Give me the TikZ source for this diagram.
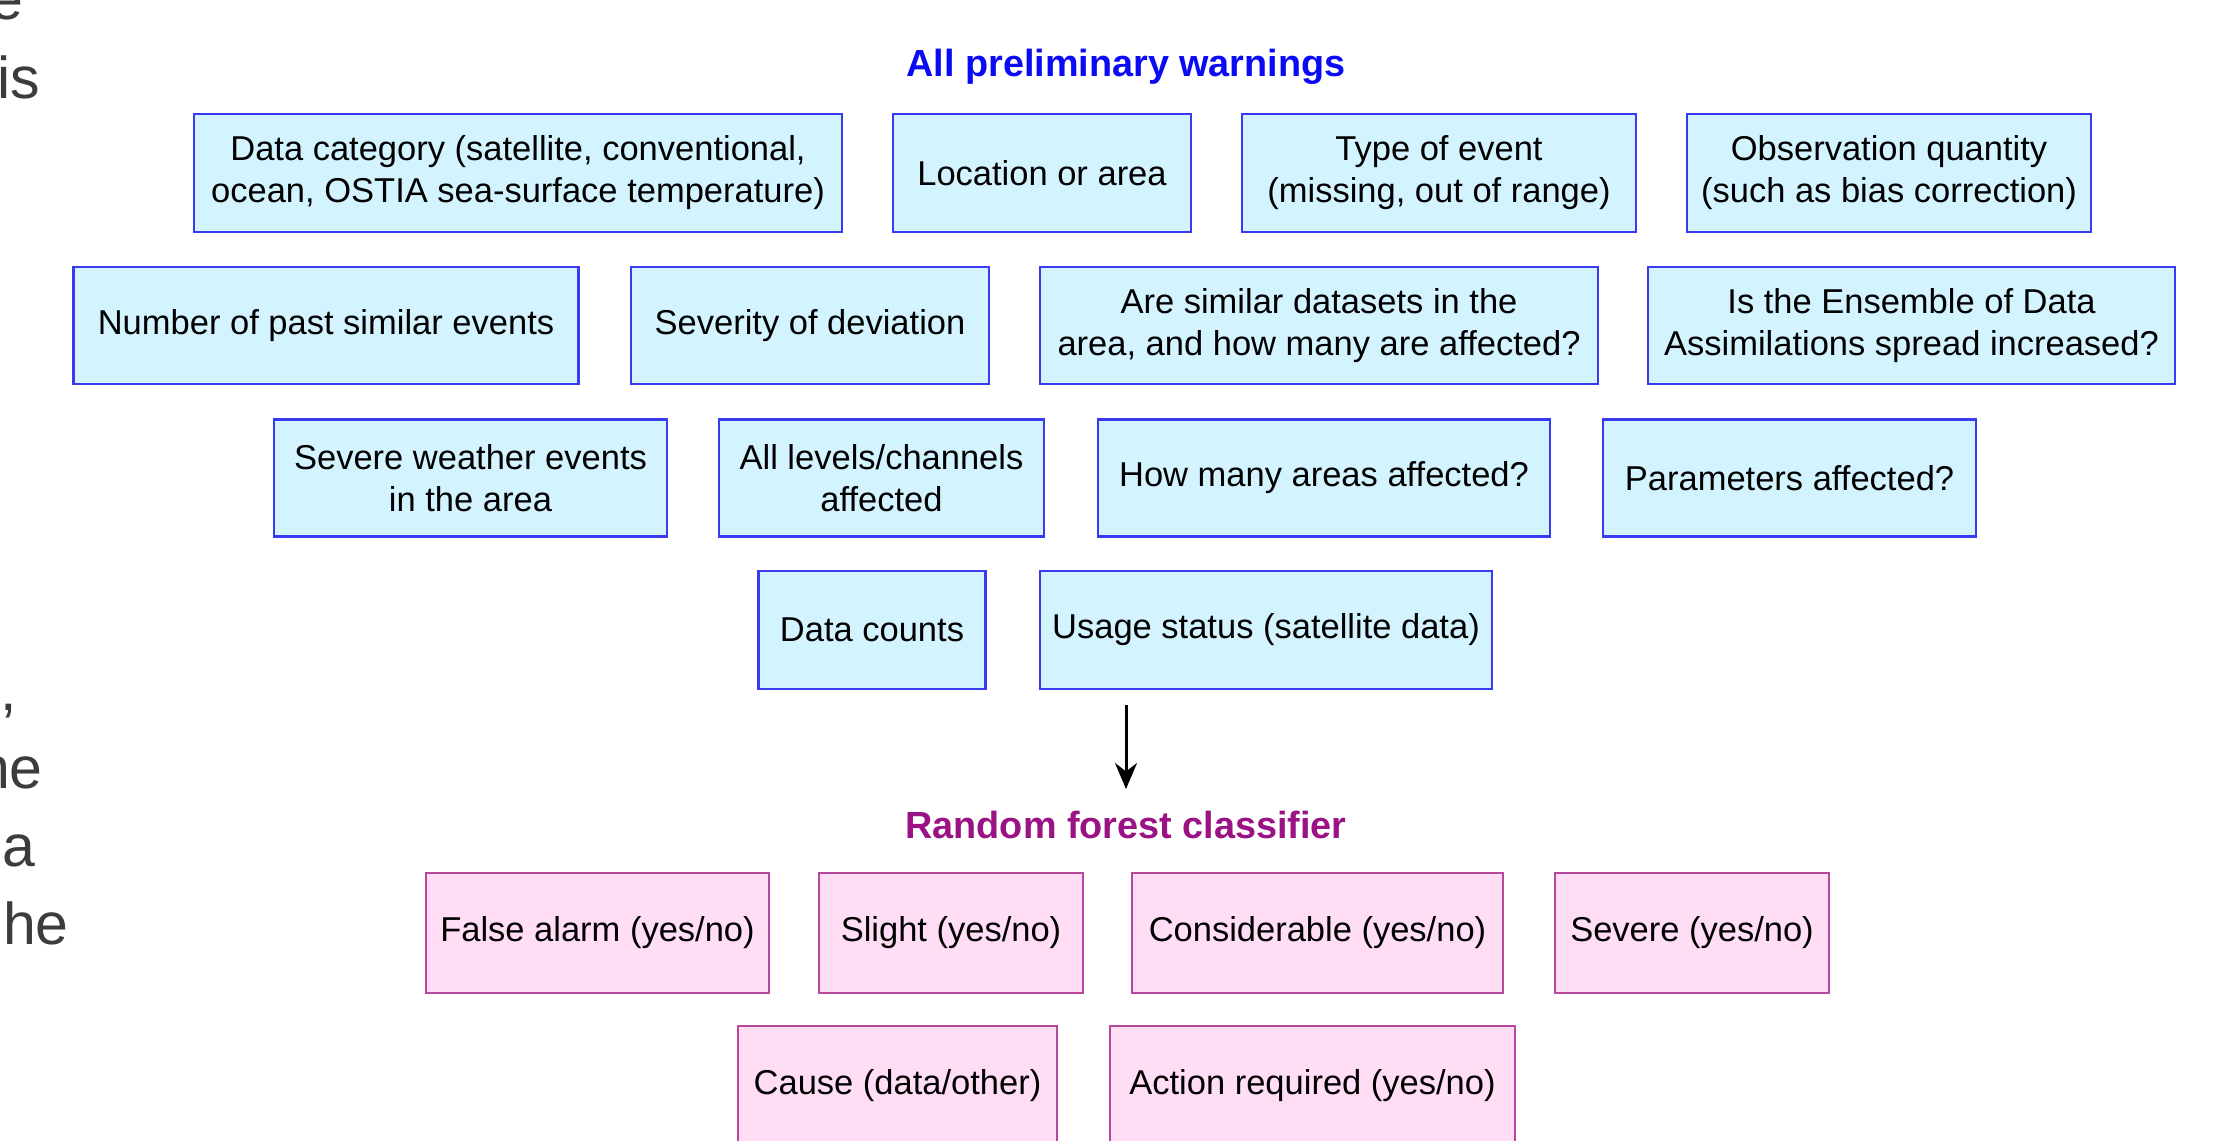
\documentclass[tikz,border=0pt]{standalone}
\usepackage{fontspec}
\setmainfont{Liberation Sans}
\usetikzlibrary{arrows.meta}
\definecolor{bfill}{HTML}{D3F4FF}
\definecolor{bdraw}{HTML}{3A3AF2}
\definecolor{pfill}{HTML}{FFDEF5}
\definecolor{pdraw}{HTML}{B8479E}
\definecolor{tblue}{HTML}{0A0AF5}
\definecolor{tpurple}{HTML}{9A1283}
\definecolor{fragc}{HTML}{3C3C3C}
\begin{document}
\begin{tikzpicture}[x=1pt,y=-1pt,
  wh/.style 2 args={minimum width=#1pt, minimum height=#2pt},
  boxbase/.style={line width=2.4pt, align=center, inner sep=0pt, font=\fontsize{34.5}{42}\selectfont},
  bbox/.style={boxbase, draw=bdraw, fill=bfill},
  pbox/.style={boxbase, draw=pdraw, fill=pfill},
  ttl/.style={anchor=base, inner sep=0pt, font=\fontsize{37.8}{44}\selectfont\bfseries},
  frag/.style={anchor=base east, inner sep=0pt, text=fragc, font=\fontsize{59}{78}\selectfont},
  arr/.style={line width=3pt, -{Stealth[length=26pt,width=22pt]}}]
\useasboundingbox (0,0) rectangle (2215,1140);
\fill[white] (0,0) rectangle (2215,1140);
\clip (0,0) rectangle (2215,1140);

% fragments of neighbouring text
\node[frag] (f1) at (24,20) {e};
\node[frag] (f2) at (40,98) {is};
\node[frag] (f3) at (17,710) {,};
\node[frag] (f4) at (43,788) {he};
\node[frag] (f5) at (36,866) {a};
\node[frag] (f6) at (69,944) {he};

% titles
\node[ttl, text=tblue] (t1) at (1126,77) {All preliminary warnings};
\node[ttl, text=tpurple] (t2) at (1126,838) {Random forest classifier};

% row 1
\node[bbox, wh={648}{118}] (dc) at (518,173) {Data category (satellite, conventional,\\ocean, OSTIA sea-surface temperature)};
\node[bbox, wh={298}{118}] (loc) at (1042,173) {Location or area};
\node[bbox, wh={394}{118}] (type) at (1439,173) {Type of event\\(missing, out of range)};
\node[bbox, wh={404}{118}] (obs) at (1889,173) {Observation quantity\\(such as bias correction)};

% row 2
\node[bbox, wh={505}{117}] (num) at (326,325.5) {Number of past similar events};
\node[bbox, wh={358}{117}] (sev) at (810,325.5) {Severity of deviation};
\node[bbox, wh={558}{117}] (are) at (1319,325.5) {Are similar datasets in the\\area, and how many are affected?};
\node[bbox, wh={527}{117}] (ens) at (1911.5,325.5) {Is the Ensemble of Data\\Assimilations spread increased?};

% row 3
\node[bbox, wh={393}{117}] (sw) at (470.5,478) {Severe weather events\\in the area};
\node[bbox, wh={325}{117}] (al) at (881.5,478) {All levels/channels\\affected};
\node[bbox, wh={452}{117}] (hm) at (1324,478) {How many areas affected?};
\node[bbox, wh={373}{117}] (pa) at (1789.5,478) {Parameters affected?};

% row 4
\node[bbox, wh={227}{118}] (dcnt) at (872,630) {Data counts};
\node[bbox, wh={452}{118}] (us) at (1266,630) {Usage status (satellite data)};

% arrow
\coordinate (atop) at (1126,705);
\coordinate (atip) at (1126,789);
\draw[arr] (atop) -- (atip);

% row 5
\node[pbox, wh={343}{120}] (fa) at (597.5,933) {False alarm (yes/no)};
\node[pbox, wh={264}{120}] (sl) at (951,933) {Slight (yes/no)};
\node[pbox, wh={371}{120}] (con) at (1317.5,933) {Considerable (yes/no)};
\node[pbox, wh={274}{120}] (sevr) at (1692,933) {Severe (yes/no)};

% row 6
\node[pbox, wh={319}{120}] (cause) at (897.5,1086) {Cause (data/other)};
\node[pbox, wh={405}{120}] (act) at (1312.5,1086) {Action required (yes/no)};
\end{tikzpicture}
\end{document}
